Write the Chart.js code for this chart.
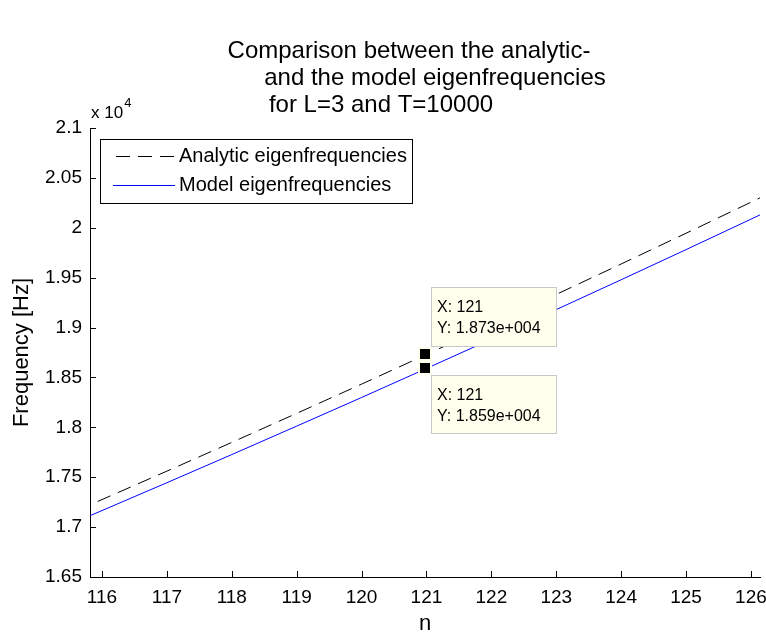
<!DOCTYPE html>
<html>
<head>
<meta charset="utf-8">
<script src="https://cdn.jsdelivr.net/npm/chart.js@4.4.1/dist/chart.umd.min.js"></script>
<style>
html, body { margin: 0; padding: 0; background: #fff; }
#wrap { width: 766px; height: 637px; position: relative; }
</style>
</head>
<body>
<div id="wrap"><canvas id="freqChart"></canvas></div>
<script>
// mode number n and the two sets of eigenfrequencies [Hz]
var nValues      = [115, 116, 117, 118, 119, 120, 121, 122, 123, 124, 125, 126, 127];
var analyticFreq = [16994, 17276, 17561, 17849, 18140, 18433, 18730, 19029, 19332, 19637, 19945, 20256, 20570];
var modelFreq    = [16890, 17166, 17445, 17727, 18012, 18299, 18590, 18883, 19180, 19479, 19781, 20086, 20394];

var xTicks = [116, 117, 118, 119, 120, 121, 122, 123, 124, 125, 126];
var yTicks = [16500, 17000, 17500, 18000, 18500, 19000, 19500, 20000, 20500, 21000];

var tipN = 121;
var titleLines = ['Comparison between the analytic-', 'and the model eigenfrequencies', 'for L=3 and T=10000'];
var seriesLabels = ['Analytic eigenfrequencies', 'Model eigenfrequencies'];

var FONT = "'Liberation Sans', Arial, sans-serif";
Chart.defaults.font.family = FONT;
Chart.defaults.color = '#000';

function toPoints(xs, ys) {
    return xs.map(function (x, i) { return { x: x, y: ys[i] }; });
}

// matlab style 1.873e+004
function matlabExp(v) {
    var s = v.toExponential(3);
    var parts = s.split('e');
    var sign = parts[1].charAt(0) === '-' ? '-' : '+';
    var ex = Math.abs(parseInt(parts[1], 10)).toString();
    while (ex.length < 3) ex = '0' + ex;
    return parts[0] + 'e' + sign + ex;
}

var matlabDecor = {
    id: 'matlabDecor',
    afterDatasetsDraw: function (chart) {
        var ctx = chart.ctx;
        var xs = chart.scales.x, ys = chart.scales.y;
        var area = chart.chartArea;

        // inward tick marks
        ctx.save();
        ctx.strokeStyle = '#000';
        ctx.lineWidth = 1;
        ctx.beginPath();
        xTicks.forEach(function (v) {
            var px = Math.round(xs.getPixelForValue(v)) + 0.5;
            ctx.moveTo(px, area.bottom);
            ctx.lineTo(px, area.bottom - 6);
        });
        yTicks.forEach(function (v) {
            var py = Math.round(ys.getPixelForValue(v)) + 0.5;
            ctx.moveTo(area.left, py);
            ctx.lineTo(area.left + 6, py);
        });
        ctx.stroke();
        ctx.restore();

        // data tips
        var idx = nValues.indexOf(tipN);
        var px = xs.getPixelForValue(tipN);
        var tips = [
            { y: analyticFreq[idx], boxTop: -67, boxH: 59 },
            { y: modelFreq[idx], boxTop: 7, boxH: 58 }
        ];
        ctx.save();
        tips.forEach(function (t) {
            var py = ys.getPixelForValue(t.y);
            ctx.fillStyle = '#ffffee';
            ctx.fillRect(Math.round(px) - 8, Math.round(py) - 7, 14, 14);
            ctx.fillStyle = '#000';
            ctx.fillRect(Math.round(px) - 6, Math.round(py) - 5, 10, 10);

            var bx = Math.round(px) + 5, by = Math.round(py) + t.boxTop;
            ctx.fillStyle = '#ffffee';
            ctx.fillRect(bx, by, 125, t.boxH);
            ctx.strokeStyle = '#c8c8c8';
            ctx.lineWidth = 1;
            ctx.strokeRect(bx + 0.5, by + 0.5, 125, t.boxH);
            ctx.fillStyle = '#000';
            ctx.font = '16px ' + FONT;
            ctx.textAlign = 'left';
            ctx.textBaseline = 'alphabetic';
            ctx.fillText('X: ' + tipN, bx + 6, by + 25);
            ctx.fillText('Y: ' + matlabExp(t.y), bx + 6, by + 46);
        });
        ctx.restore();
    },
    afterDraw: function (chart) {
        var ctx = chart.ctx;
        var ds = chart.data.datasets;
        ctx.save();

        // legend box
        ctx.fillStyle = '#fff';
        ctx.fillRect(100, 139, 313, 64);
        ctx.strokeStyle = '#000';
        ctx.lineWidth = 1;
        ctx.strokeRect(100.5, 139.5, 312, 64);
        var rows = [156.5, 185.5];
        ds.forEach(function (d, i) {
            ctx.beginPath();
            ctx.strokeStyle = d.borderColor;
            ctx.lineWidth = 1.2;
            ctx.setLineDash(d.borderDash || []);
            ctx.moveTo(i === 0 ? 116 : 113, rows[i]);
            ctx.lineTo(175, rows[i]);
            ctx.stroke();
            ctx.setLineDash([]);
            ctx.fillStyle = '#000';
            ctx.font = '20px ' + FONT;
            ctx.textAlign = 'left';
            ctx.textBaseline = 'middle';
            ctx.fillText(d.label, 179, rows[i]);
        });

        // exponent label
        ctx.fillStyle = '#000';
        ctx.textBaseline = 'alphabetic';
        ctx.font = '17px ' + FONT;
        ctx.fillText('x 10', 91, 118);
        var w = ctx.measureText('x 10').width;
        ctx.font = '13px ' + FONT;
        ctx.fillText('4', 91 + w + 1, 107);

        // title, three lines
        ctx.font = '24px ' + FONT;
        ctx.textAlign = 'center';
        var centers = [409, 435, 381];
        var bases = [58, 85, 112];
        titleLines.forEach(function (t, i) {
            ctx.fillText(t, centers[i], bases[i]);
        });
        ctx.restore();
    }
};

var ctx = document.getElementById('freqChart').getContext('2d');
var freqChart = new Chart(ctx, {
    type: 'line',
    data: {
        datasets: [
            {
                label: seriesLabels[0],
                data: toPoints(nValues, analyticFreq),
                borderColor: '#000000',
                borderWidth: 1,
                borderDash: [14, 8],
                pointRadius: 0,
                fill: false,
                tension: 0
            },
            {
                label: seriesLabels[1],
                data: toPoints(nValues, modelFreq),
                borderColor: '#0000ff',
                borderWidth: 1,
                pointRadius: 0,
                fill: false,
                tension: 0
            }
        ]
    },
    options: {
        responsive: true,
        maintainAspectRatio: false,
        animation: false,
        layout: { padding: { top: 128, right: 6, left: 0, bottom: 0 } },
        plugins: {
            legend: { display: false },
            title: { display: false },
            tooltip: { enabled: false }
        },
        scales: {
            x: {
                type: 'linear',
                min: 115.815,
                max: 126.14,
                afterBuildTicks: function (s) { s.ticks = xTicks.map(function (v) { return { value: v }; }); },
                afterFit: function (s) { s.height = 60; s.paddingLeft = 0; s.paddingRight = 0; },
                grid: { display: false, drawTicks: false },
                border: { display: true, color: '#000', width: 1 },
                ticks: { color: '#000', font: { size: 19 }, padding: 9, maxRotation: 0, autoSkip: false },
                title: { display: true, text: 'n', color: '#000', font: { size: 22 }, padding: { top: 0, bottom: 0 } }
            },
            y: {
                type: 'linear',
                min: 16500,
                max: 21000,
                afterBuildTicks: function (s) { s.ticks = yTicks.map(function (v) { return { value: v }; }); },
                afterFit: function (s) { s.width = 90; s.paddingTop = 0; s.paddingBottom = 0; },
                grid: { display: false, drawTicks: false },
                border: { display: true, color: '#000', width: 1 },
                ticks: {
                    color: '#000', font: { size: 19 }, padding: 8, autoSkip: false,
                    callback: function (v) { return String(+(v / 1e4).toFixed(2)); }
                },
                title: { display: true, text: 'Frequency [Hz]', color: '#000', font: { size: 22 }, padding: { top: 9, bottom: 0 } }
            }
        }
    },
    plugins: [matlabDecor]
});
</script>
</body>
</html>
